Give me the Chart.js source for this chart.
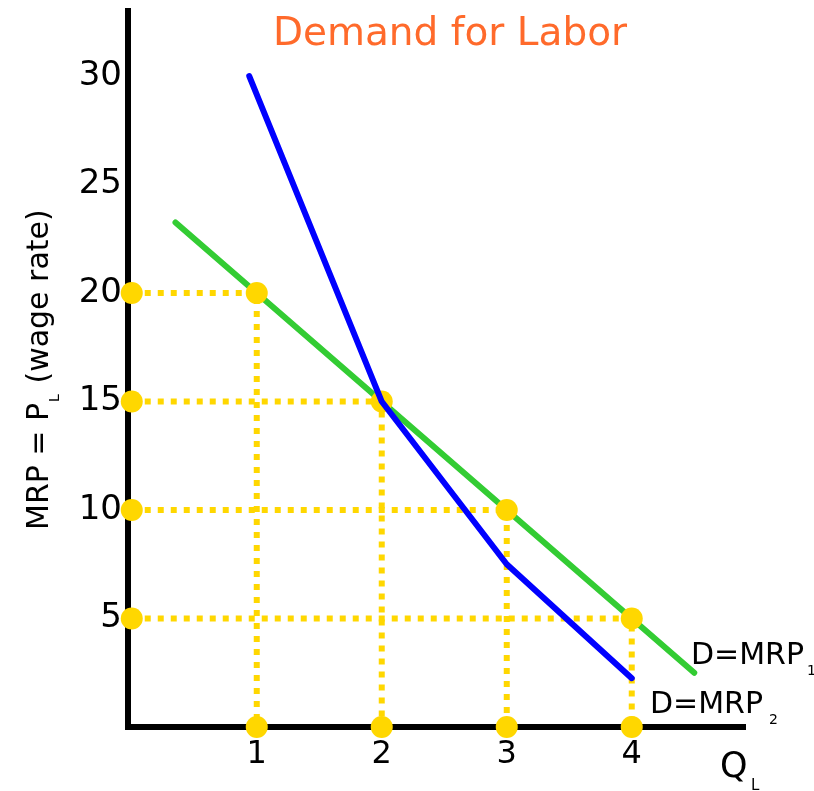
<!DOCTYPE html>
<html><head><meta charset="utf-8">
<script src="https://cdn.jsdelivr.net/npm/chart.js@4"></script>
<style>html,body{margin:0;padding:0;background:#fff}canvas{display:block}</style>
</head><body>
<canvas id="c" width="814" height="791"></canvas>
<script>
// ---- data ----
const quantities = [1, 2, 3, 4];
const wages = [20, 15, 10, 5];
const xTickValues = [1, 2, 3, 4];
const xTickLabels = ['1', '2', '3', '4'];
const yTickValues = [5, 10, 15, 20, 25, 30];
const yTickLabels = ['5', '10', '15', '20', '25', '30'];
const mrp1Q = [0.35, 4.5];
const mrp1P = [23.25, 2.5];
const mrp2Q = [0.94, 2, 3, 4];
const mrp2P = [30, 15, 7.5, 2.25];

const GOLD = '#FFD700';
const FONT = '"DejaVu Sans", Verdana, sans-serif';

const pts = (xs, ys) => xs.map((x, i) => ({x: x, y: ys[i]}));

const guideSets = quantities.map((q, i) => ({
  data: [{x: 0, y: wages[i]}, {x: q, y: wages[i]}, {x: q, y: 0}],
  showLine: true, borderColor: GOLD, borderWidth: 6, borderDash: [6, 7],
  pointRadius: 0, order: 4, clip: false
}));

const dotData = [];
wages.forEach(w => dotData.push({x: 0, y: w}));
quantities.forEach(q => dotData.push({x: q, y: 0}));
quantities.forEach((q, i) => dotData.push({x: q, y: wages[i]}));

const labelsPlugin = {
  id: 'labels',
  afterDraw(chart) {
    const ctx = chart.ctx;
    ctx.save();
    // title
    ctx.fillStyle = '#FF6A2B';
    ctx.font = '39px ' + FONT;
    ctx.textAlign = 'center';
    ctx.textBaseline = 'alphabetic';
    ctx.fillText('Demand for Labor', 450, 45);
    // y-axis title
    ctx.fillStyle = '#000';
    ctx.save();
    ctx.translate(48, 530);
    ctx.rotate(-Math.PI / 2);
    ctx.textAlign = 'left';
    ctx.font = '30px ' + FONT;
    const a = 'MRP = P';
    ctx.fillText(a, 0, 0);
    let w = ctx.measureText(a).width;
    ctx.font = '14px ' + FONT;
    ctx.fillText('L', w + 1, 11);
    w += ctx.measureText('L').width + 2;
    ctx.font = '30px ' + FONT;
    ctx.fillText(' (wage rate)', w, 0);
    ctx.restore();
    // curve labels
    ctx.textAlign = 'left';
    ctx.font = '30px ' + FONT;
    ctx.fillText('D=MRP', 691, 664);
    let w1 = ctx.measureText('D=MRP').width;
    ctx.fillText('D=MRP', 650, 713);
    ctx.font = '14px ' + FONT;
    ctx.fillText('1', 691 + w1 + 3, 675);
    ctx.fillText('2', 650 + w1 + 6, 724);
    // Q_L
    ctx.font = '35px ' + FONT;
    ctx.fillText('Q', 720, 777);
    ctx.font = '15px ' + FONT;
    ctx.fillText('L', 751, 790);
    ctx.restore();
  }
};

const noPad = s => { s.paddingTop = 0; s.paddingBottom = 0; s.paddingLeft = 0; s.paddingRight = 0; };

new Chart(document.getElementById('c'), {
  type: 'scatter',
  data: {
    datasets: [
      ...guideSets,
      { data: pts(mrp1Q, mrp1P), showLine: true, borderColor: '#33CC33', borderWidth: 6,
        pointRadius: 0, order: 3, borderCapStyle: 'round', clip: false },
      { data: dotData, showLine: false, pointRadius: 11, pointBackgroundColor: GOLD,
        pointBorderWidth: 0, backgroundColor: GOLD, order: 2, clip: false },
      { data: pts(mrp2Q, mrp2P), showLine: true, borderColor: '#0000FF', borderWidth: 6,
        pointRadius: 0, order: 1, borderCapStyle: 'round', borderJoinStyle: 'round', clip: false }
    ]
  },
  options: {
    responsive: false,
    animation: false,
    devicePixelRatio: 1,
    layout: {padding: {top: 10, right: 69, left: 0, bottom: 0}},
    plugins: {legend: {display: false}, tooltip: {enabled: false}, title: {display: false}},
    scales: {
      x: {
        type: 'linear', min: -0.03, max: 4.906,
        afterBuildTicks: s => { s.ticks = xTickValues.map(v => ({value: v})); },
        afterFit: s => { s.height = 64; noPad(s); },
        ticks: {
          callback: v => xTickLabels[xTickValues.indexOf(v)] ?? '',
          font: {size: 32, family: FONT}, color: '#000', padding: 8,
          autoSkip: false, maxRotation: 0
        },
        grid: {display: false, drawTicks: false},
        border: {color: '#000', width: 6}
      },
      y: {
        type: 'linear', min: 0, max: 33,
        afterBuildTicks: s => { s.ticks = yTickValues.map(v => ({value: v})); },
        afterFit: s => { s.width = 128; noPad(s); },
        ticks: {
          callback: v => yTickLabels[yTickValues.indexOf(v)] ?? '',
          font: {size: 34, family: FONT}, color: '#000', padding: 6,
          autoSkip: false
        },
        grid: {display: false, drawTicks: false},
        border: {color: '#000', width: 6}
      }
    }
  },
  plugins: [labelsPlugin]
});
</script>
</body></html>
